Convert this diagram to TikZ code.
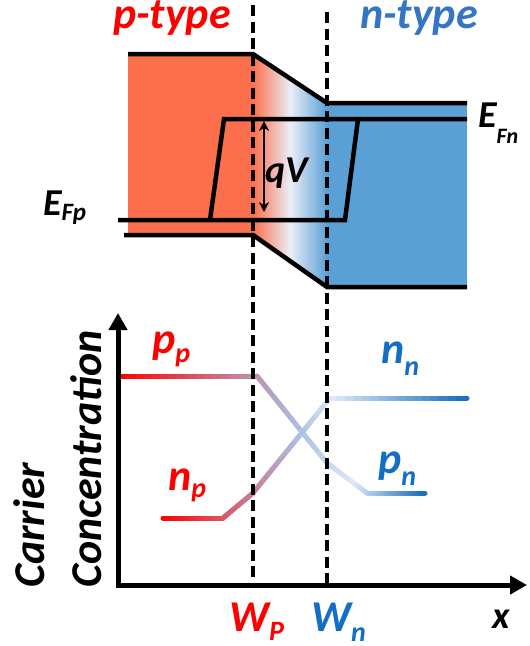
\documentclass[tikz,border=0pt]{standalone}
\usepackage{fontspec}
\setmainfont{Carlito}
\usetikzlibrary{arrows.meta}
\definecolor{pfill}{RGB}{252,111,77}
\definecolor{nfill}{RGB}{90,160,213}
\definecolor{midfill}{RGB}{234,238,247}
\definecolor{tred}{RGB}{255,0,0}
\definecolor{tblue}{RGB}{20,110,195}
\definecolor{ttblue}{RGB}{52,118,196}
\definecolor{lb}{RGB}{170,192,228}
\definecolor{pale}{RGB}{222,232,246}
\definecolor{eblue}{RGB}{20,110,190}
\newcommand{\gcol}[1]{%
  \pgfmathsetmacro\gx{#1}%
  \ifdim\gx pt<\gsB pt
    \pgfmathsetmacro\gt{max(0,min(100,((\gx-\gsA)/(\gsB-\gsA))*100))}%
    \colorlet{gc}{lb!\gt!tred}%
  \else
    \ifdim\gx pt<\gsC pt
      \pgfmathsetmacro\gt{max(0,min(100,((\gx-\gsB)/(\gsC-\gsB))*100))}%
      \colorlet{gc}{pale!\gt!lb}%
    \else
      \pgfmathsetmacro\gt{max(0,min(100,((\gx-\gsC)/(\gsD-\gsC))*100))}%
      \colorlet{gc}{eblue!\gt!pale}%
    \fi
  \fi}
\newcommand{\gseg}[4]{%
  \foreach \gi in {1,...,16}{%
    \pgfmathsetmacro\gxa{#1+(#3-#1)*(\gi-1)/16}%
    \pgfmathsetmacro\gya{#2+(#4-#2)*(\gi-1)/16}%
    \pgfmathsetmacro\gxb{#1+(#3-#1)*\gi/16}%
    \pgfmathsetmacro\gyb{#2+(#4-#2)*\gi/16}%
    \gcol{(\gxa+\gxb)/2}%
    \draw[cline,draw=gc] (\gxa,\gya) -- (\gxb,\gyb);%
  }}
\newcommand{\sbs}[3]{\raisebox{-#1pt}{\fontsize{#2}{#2}\selectfont #3}}
\begin{document}
\begin{tikzpicture}[x=1pt,y=-1pt,
  band/.style={line width=4.5pt,black},
  cline/.style={line width=5pt,line cap=round},
  dline/.style={line width=4pt,black,dash pattern=on 11pt off 5.5pt},
  axisline/.style={line width=5pt,black,{Triangle[length=17pt,width=18pt]}-{Triangle[length=17pt,width=18pt]}},
  lab/.style={inner sep=0pt,anchor=base west,font=\bfseries\itshape\fontsize{44}{53}\selectfont},
  elab/.style={lab,font=\bfseries\itshape\fontsize{38}{45}\selectfont}]
\useasboundingbox (0,0) rectangle (530,646);
% fills
\fill[pfill] (128,54) rectangle (253.5,234);
\fill[nfill] (326.5,103) rectangle (467,287);
\shade[left color=pfill,right color=nfill,middle color=midfill] (253,54) -- (327,103) -- (327,287) -- (253,235) -- cycle;
% band edges
\draw[band] (128,54) -- (253,54) -- (327,103) -- (467,103);
\draw[band] (124,235) -- (253,235) -- (327,287) -- (467,287);
% quasi Fermi levels
\draw[band] (467,119) -- (224,119) -- (210,220);
\draw[band] (118,220) -- (345,220) -- (358,119);
% qV arrow
\coordinate (qa) at (264,121);
\coordinate (qb) at (264,212);
\draw[line width=2.8pt,{Stealth[length=10pt,width=10pt]}-{Stealth[length=10pt,width=10pt]}] (qa) -- (qb);
% carrier curves
\def\gsA{163}\def\gsB{300}\def\gsC{335}\def\gsD{467}
\gseg{163}{518}{223}{518}
\gseg{223}{518}{253}{493}
\gseg{253}{493}{330}{398}
\gseg{330}{398}{467}{398}
\def\gsA{120}\def\gsB{300}\def\gsC{355}\def\gsD{425}
\gseg{120}{376}{257}{376}
\gseg{257}{376}{327}{463}
\gseg{327}{463}{367}{493}
\gseg{367}{493}{425}{493}
% axes
\coordinate (ytop) at (118,313);
\coordinate (orig) at (118,585);
\coordinate (xend) at (527,585);
\draw[axisline] (ytop) -- (orig) -- (xend);
% dashed lines
\coordinate (d1a) at (253,5);
\coordinate (d1b) at (253,583);
\coordinate (d2a) at (327,12);
\coordinate (d2b) at (327,583);
\draw[dline] (d1a) -- (d1b);
\draw[dline] (d2a) -- (d2b);
% labels
\node[lab,text=tred] (ptype) at (113,28.5) {p-type};
\node[lab,text=ttblue] (ntype) at (360,28.5) {n-type};
\node[elab] (efn) at (478,127) {E\sbs{16}{22}{Fn}};
\node[elab] (efp) at (43,215) {E\sbs{5}{25}{Fp}};
\node[elab] (qv) at (265,182) {qV};
\node[lab,text=tred] (pp) at (152,353) {p\sbs{9}{28}{p}};
\node[lab,text=tblue] (nn) at (381,363) {n\sbs{12}{28}{n}};
\node[lab,text=tred] (np) at (168,490) {n\sbs{7}{28}{p}};
\node[lab,text=tblue] (pn) at (378,473) {p\sbs{12}{28}{n}};
\node[lab,text=tred] (wp) at (229,631) {W\sbs{9}{28}{P}};
\node[lab,text=tblue] (wn) at (311,631) {W\sbs{10}{28}{n}};
\node[lab,font=\bfseries\itshape\fontsize{38}{46}\selectfont] (xl) at (492,628) {x};
\node[lab,rotate=90] (car) at (45,588) {Carrier};
\node[lab,rotate=90] (con) at (101,588) {Concentration};
\end{tikzpicture}
\end{document}
